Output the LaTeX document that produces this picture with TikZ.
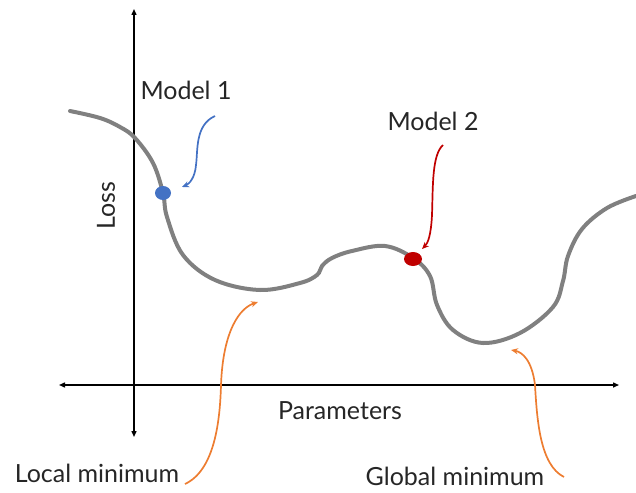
\documentclass[tikz,border=0pt]{standalone}
\usepackage{fontspec}
\setmainfont{Lato}
\usetikzlibrary{arrows.meta,shapes.geometric}
\definecolor{curvegray}{RGB}{128,128,128}
\definecolor{mblue}{RGB}{68,114,196}
\definecolor{mred}{RGB}{192,0,0}
\definecolor{morange}{RGB}{237,125,49}
\definecolor{textgray}{RGB}{38,38,38}
\tikzset{
  axisline/.style={line width=1.4pt, black, {Triangle[length=6pt,width=5pt]}-{Triangle[length=6pt,width=5pt]}},
  losscurve/.style={line width=4pt, curvegray, line cap=round},
  pointer/.style={line width=1.7pt, -{Stealth[length=7pt,width=6pt]}},
  lbl/.style={font=\fontsize{25}{28}\selectfont, text=textgray, inner sep=0pt},
  dot/.style={ellipse, inner sep=0pt, minimum width=16pt, minimum height=14pt}
}
\begin{document}
\begin{tikzpicture}[x=1pt,y=-1pt]
\useasboundingbox (0,0) rectangle (636,492);
% axes
\coordinate (yt) at (134,9);
\coordinate (yb) at (134,437);
\coordinate (xl) at (59,385);
\coordinate (xr) at (619,385);
\draw[axisline] (yb) -- (yt);
\draw[axisline] (xl) -- (xr);
% loss curve
\draw[losscurve] plot[smooth, tension=0.6] coordinates {
(70,111) (100,118) (120,127) (135,138) (153,163) (163,193) (167,217) (183,255) (215,280) (260,290) (300,283) (317,275) (322,266) (332,258) (352,251) (385,246) (413,258) (430,276) (437,305) (453,330) (483,343) (520,333) (553,307) (563,281) (568,256) (582,229) (607,208) (636,196)};
% dots
\node[dot, fill=mblue] (m1dot) at (163,193) {};
\node[dot, fill=mred, minimum width=18pt] (m2dot) at (413,259) {};
% labels
\node[lbl] (m1) at (186,90) {Model 1};
\node[lbl] (m2) at (433,121) {Model 2};
\node[lbl, rotate=90] (loss) at (106,206) {Loss};
\node[lbl] (par) at (340,411) {Parameters};
\node[lbl] (loc) at (97,473) {Local minimum};
\node[lbl] (glob) at (455,476) {Global minimum};
% pointer coordinates
\coordinate (b0) at (215,116);
\coordinate (b1) at (182,187);
\coordinate (r0) at (443,145);
\coordinate (r1) at (422,249);
\coordinate (o0) at (185,484);
\coordinate (o1) at (258,302);
\coordinate (g0) at (564,477);
\coordinate (g1) at (511,350);
\draw[pointer, mblue] (b0) .. controls (195,125) and (198,150) .. (196,165) .. controls (195,178) and (189,184) .. (b1);
\draw[pointer, mred] (r0) .. controls (432,155) and (433,185) .. (432,215) .. controls (431,235) and (428,243) .. (r1);
\draw[pointer, morange] (o0) .. controls (215,470) and (220,420) .. (221,385) .. controls (223,330) and (240,308) .. (o1);
\draw[pointer, morange] (g0) .. controls (540,465) and (537,420) .. (535,385) .. controls (532,360) and (522,352) .. (g1);
\end{tikzpicture}
\end{document}
